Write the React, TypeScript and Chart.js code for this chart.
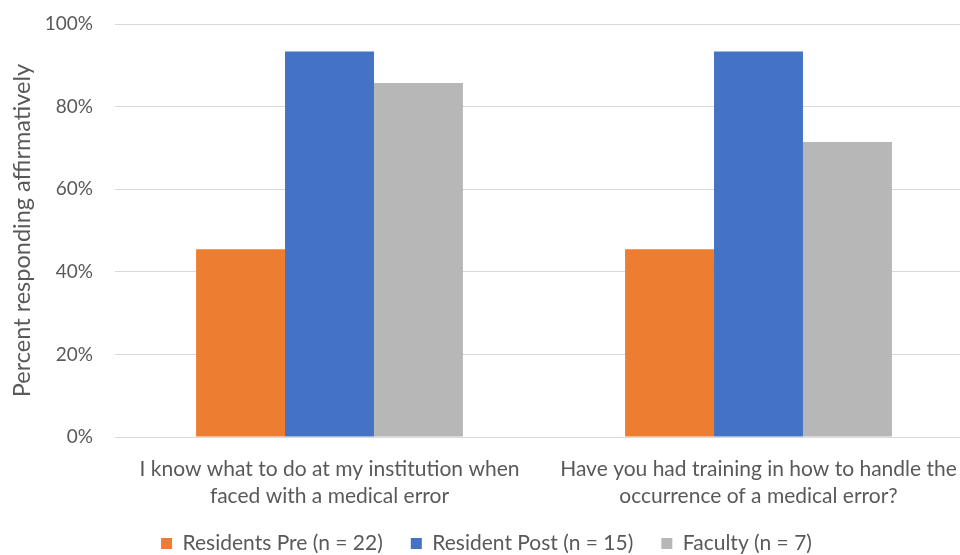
import React, { useEffect, useRef } from "react";
import { Chart, registerables } from "chart.js";

Chart.register(...registerables);

const categories: string[][] = [
  ["I know what to do at my institution when", "faced with a medical error"],
  ["Have you had training in how to handle the", "occurrence of a medical error?"],
];
const residentsPre: number[] = [45.45, 45.45];
const residentPost: number[] = [93.33, 93.33];
const faculty: number[] = [85.71, 71.43];
const seriesNames: string[] = [
  "Residents Pre (n = 22)",
  "Resident Post (n = 15)",
  "Faculty (n = 7)",
];
const yTicks: number[] = [0, 20, 40, 60, 80, 100];

const FONT = "Lato, 'Open Sans', sans-serif";
const TEXT = "#595959";

export default function App() {
  const canvasRef = useRef<HTMLCanvasElement | null>(null);

  useEffect(() => {
    if (!canvasRef.current) return;
    const chart = new Chart(canvasRef.current, {
      type: "bar",
      data: {
        labels: categories,
        datasets: [
          { label: seriesNames[0], data: residentsPre, backgroundColor: "#ED7D31" },
          { label: seriesNames[1], data: residentPost, backgroundColor: "#4472C4" },
          { label: seriesNames[2], data: faculty, backgroundColor: "#B7B7B7" },
        ],
      },
      options: {
        animation: false,
        responsive: false,
        maintainAspectRatio: false,
        layout: { padding: { top: 24, left: 0, right: 2, bottom: 0 } },
        datasets: {
          bar: { categoryPercentage: 0.622, barPercentage: 1.0, borderWidth: 0 },
        },
        scales: {
          x: {
            grid: { display: false },
            border: { display: false },
            ticks: {
              color: TEXT,
              font: { family: FONT, size: 21, lineHeight: 1.29 },
              padding: 11,
              maxRotation: 0,
              autoSkip: false,
            },
            afterFit: (scale: any) => {
              scale.height = 68;
            },
          },
          y: {
            min: 0,
            max: 100,
            afterBuildTicks: (scale: any) => {
              scale.ticks = yTicks.map((v) => ({ value: v }));
            },
            grid: {
              color: "#D9D9D9",
              lineWidth: 1,
              drawTicks: true,
              tickLength: 14,
              tickColor: "rgba(0,0,0,0)",
            },
            border: { display: false },
            ticks: {
              color: TEXT,
              font: { family: FONT, size: 19 },
              padding: 8,
              callback: (v: any) => `${v}%`,
            },
            title: {
              display: true,
              text: "Percent responding affirmatively",
              color: TEXT,
              font: { family: FONT, size: 23.5 },
              padding: { top: 8, bottom: 0 },
            },
            afterFit: (scale: any) => {
              scale.width = 115;
            },
          },
        },
        plugins: {
          legend: {
            position: "bottom",
            labels: {
              color: TEXT,
              font: { family: FONT, size: 21 },
              boxWidth: 11,
              boxHeight: 11,
              padding: 28,
            },
          },
          tooltip: { enabled: false },
        },
      },
    });
    return () => chart.destroy();
  }, []);

  return (
    <div
      style={{
        position: "fixed",
        left: 0,
        top: 0,
        width: 960,
        height: 555,
        overflow: "hidden",
        background: "#FFFFFF",
      }}
    >
      <canvas ref={canvasRef} width={975} height={564} style={{ display: "block" }} />
    </div>
  );
}
